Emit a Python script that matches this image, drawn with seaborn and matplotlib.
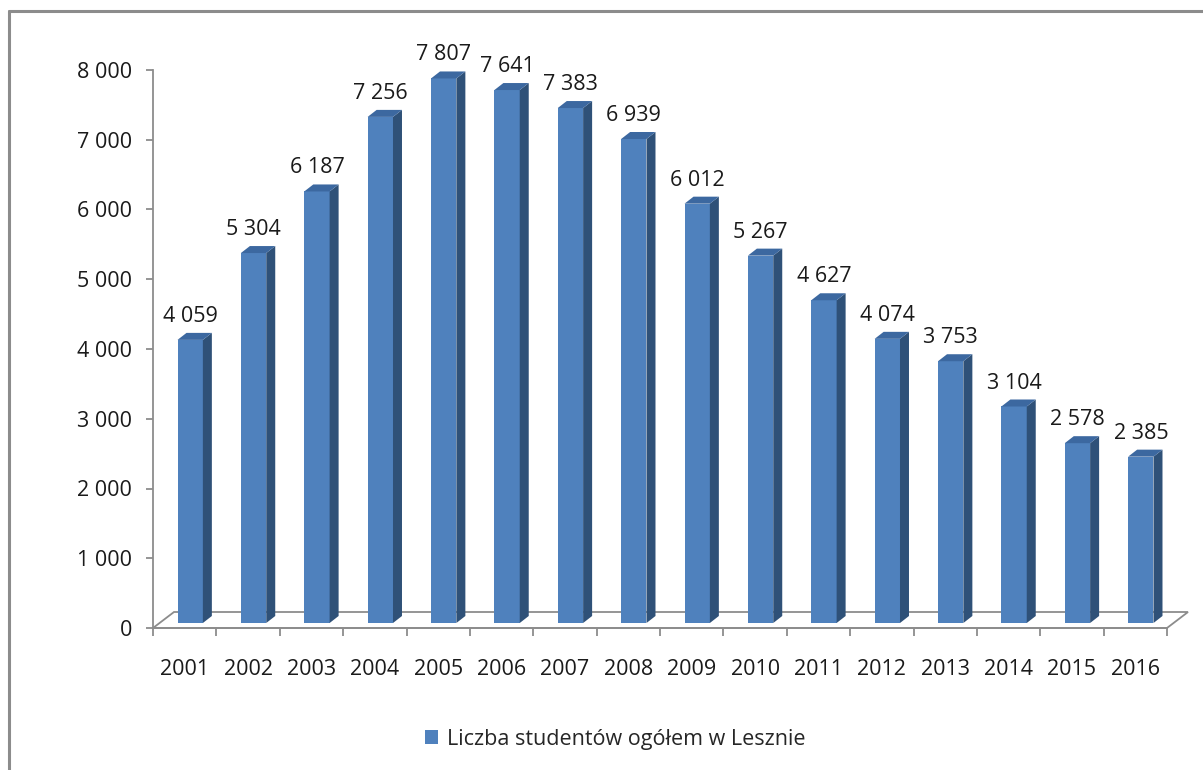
import matplotlib
matplotlib.use("Agg")
import matplotlib.pyplot as plt
from matplotlib.patches import Polygon, Patch
from matplotlib.lines import Line2D
import seaborn as sns
import pandas as pd

years = ["2001", "2002", "2003", "2004", "2005", "2006", "2007", "2008",
         "2009", "2010", "2011", "2012", "2013", "2014", "2015", "2016"]
students = [4059, 5304, 6187, 7256, 7807, 7641, 7383, 6939,
            6012, 5267, 4627, 4074, 3753, 3104, 2578, 2385]
series_name = "Liczba studentów ogółem w Lesznie"
y_ticks = [0, 1000, 2000, 3000, 4000, 5000, 6000, 7000, 8000]

sns.set_theme(style="white")
plt.rcParams["font.family"] = ["Open Sans", "DejaVu Sans"]

FRONT = "#4F81BD"
SIDE = "#2F5178"
TOP = "#3C68A0"
GREY = "#8C8C8C"

df = pd.DataFrame({"year": years, "value": students})

fig = plt.figure(figsize=(12.03, 7.70), dpi=100)
ax = fig.add_axes([153 / 1203, 142 / 770, 1014 / 1203, 558 / 770])

sns.barplot(data=df, x="year", y="value", color=FRONT, width=0.4,
            saturation=1, ax=ax, zorder=3)

ax.set_xlim(-0.5, len(years) - 0.5)
ax.set_ylim(0, 8000)

# pixel -> data conversions
px_x = (len(years)) / 1014.0
px_y = 8000 / 558.0

# floor (3D perspective)
fdx, fdy = 21 * px_x, 16 * px_y
x0, x1 = -0.5, len(years) - 0.5
floor = Polygon([(x0, 0), (x1, 0), (x1 + fdx, fdy), (x0 + fdx, fdy)],
                closed=True, facecolor="white", edgecolor=GREY, lw=1.3,
                zorder=1, clip_on=False)

# 3D bar faces derived from the seaborn bars (bars sit slightly back on the floor)
shift_x, shift_y = 5.5 * px_x, 5 * px_y
ddx, ddy = 9 * px_x, 7 * px_y
bars = list(ax.patches)
for bar in bars:
    bar.set_x(bar.get_x() + shift_x)
    bar.set_y(shift_y)
    bar.set_edgecolor("none")
    bx = bar.get_x()
    bw = bar.get_width()
    by = bar.get_y()
    bt = by + bar.get_height()
    side = Polygon([(bx + bw, by), (bx + bw + ddx, by + ddy), (bx + bw + ddx, bt + ddy), (bx + bw, bt)],
                   closed=True, facecolor=SIDE, edgecolor="none", zorder=3, clip_on=False)
    top = Polygon([(bx, bt), (bx + bw, bt), (bx + bw + ddx, bt + ddy), (bx + ddx, bt + ddy)],
                  closed=True, facecolor=TOP, edgecolor="none", zorder=3, clip_on=False)
    ax.add_patch(side)
    ax.add_patch(top)
ax.add_patch(floor)

# data labels
for i, v in enumerate(students):
    lab = f"{v:,}".replace(",", " ")
    ax.annotate(lab, (i + shift_x, v + shift_y + ddy), xytext=(0, 4.3), textcoords="offset points",
                ha="center", va="bottom", fontsize=15.5, color="#1a1a1a",
                annotation_clip=False, zorder=5)

# axes styling
for s in ["top", "right"]:
    ax.spines[s].set_visible(False)
ax.spines["left"].set_color(GREY)
ax.spines["left"].set_linewidth(1.3)
ax.spines["bottom"].set_color(GREY)
ax.spines["bottom"].set_linewidth(1.3)
ax.spines["bottom"].set_zorder(2)

ax.set_yticks(y_ticks)
ax.set_yticklabels([f"{t:,}".replace(",", " ") for t in y_ticks])
ax.tick_params(axis="y", which="major", direction="out", length=5, width=1.3,
               color=GREY, labelsize=15.5, labelcolor="#1a1a1a", pad=10, left=True)
ax.set_xticks(range(len(years)))
ax.set_xticklabels(years)
ax.set_xticks([i + 0.5 for i in range(-1, len(years))], minor=True)
ax.tick_params(axis="x", which="major", length=0, labelsize=15.5, labelcolor="#1a1a1a", pad=22.5)
ax.tick_params(axis="x", which="minor", direction="out", length=6, width=1.3,
               color=GREY, bottom=True)
ax.set_xlabel("")
ax.set_ylabel("")
ax.grid(False)

# legend
handle = Patch(facecolor=FRONT, edgecolor="none", label=series_name)
fig.legend(handles=[handle], loc="center", bbox_to_anchor=(615 / 1203, 1 - 739 / 770),
           frameon=False, fontsize=15.5, handlelength=0.6, handleheight=0.6,
           handletextpad=0.4)

# outer chart frame (partially visible)
fig.add_artist(Line2D([9 / 1203, 9 / 1203], [0, 1 - 11 / 770], color=GREY, lw=2.2,
                      transform=fig.transFigure))
fig.add_artist(Line2D([9 / 1203, 1], [1 - 11 / 770, 1 - 11 / 770], color=GREY, lw=2.2,
                      transform=fig.transFigure))

fig.savefig("out.png", dpi=100, facecolor="white")
